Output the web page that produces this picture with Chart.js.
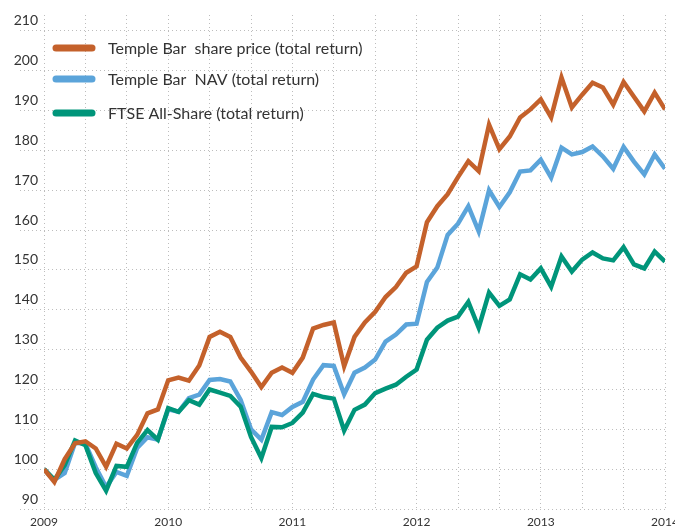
<!DOCTYPE html>
<html>
<head>
<meta charset="utf-8">
<script src="https://cdn.jsdelivr.net/npm/chart.js@4"></script>
<style>
  html, body { margin: 0; padding: 0; background: #fff; }
</style>
</head>
<body>
<canvas id="chart" width="675" height="529"></canvas>
<script>
// Monthly points, Jan 2009 (0) to Jan 2014 (60)
var years = ["2009", "2010", "2011", "2012", "2013", "2014"];
var yTicks = [90, 100, 110, 120, 130, 140, 150, 160, 170, 180, 190, 200, 210];

var sharePrice = [100, 96.8, 102.5, 106.5, 107, 105.2, 100.6, 106.4, 105.2, 108.6, 114, 115,
  122.3, 123, 122.2, 126, 133.2, 134.5, 133.2, 128, 124.5, 120.6, 124.2, 125.5,
  124.2, 128, 135.3, 136.2, 136.8, 125.8, 133.2, 136.8, 139.5, 143.2, 145.7, 149.3,
  150.9, 162, 166, 169, 173.3, 177.3, 174.8, 186.5, 180.3, 183.5, 188.3, 190.3,
  192.8, 188.3, 198.3, 190.8, 194, 197, 195.8, 191.5, 197.2, 193.5, 189.8, 194.5, 190.3];

var nav = [100, 97.3, 99, 106.6, 106.4, 100.5, 95.5, 99.3, 98.3, 105.3, 108, 107.4,
  115, 114.4, 117.8, 118.7, 122.4, 122.6, 122, 117.4, 110, 107.4, 114.3, 113.6,
  115.6, 116.9, 122.5, 126.1, 125.9, 118.8, 124.2, 125.5, 127.5, 132, 133.8, 136.3,
  136.5, 147, 150.6, 158.8, 161.6, 166, 159.7, 170, 165.8, 169.5, 174.7, 175,
  177.7, 173.2, 180.7, 179, 179.6, 181, 178.5, 175.4, 180.9, 177.2, 174, 179, 175.4];

var ftse = [100, 97.3, 101, 107.2, 106, 99, 94.6, 100.8, 100.6, 106.6, 109.8, 107.4,
  115.3, 114.4, 117.3, 116.2, 120, 119.2, 118.4, 115.7, 108.1, 102.8, 110.6, 110.5,
  111.6, 114.2, 118.9, 118.1, 117.7, 109.7, 114.9, 116.2, 119.1, 120.2, 121.2, 123.2,
  125, 132.5, 135.5, 137.3, 138.3, 142, 135.5, 144.3, 141, 142.6, 148.9, 147.6,
  150.4, 145.8, 153.4, 149.6, 152.6, 154.4, 152.9, 152.4, 155.7, 151.4, 150.4, 154.6, 152.1];

var labels = ["Temple Bar  share price (total return)", "Temple Bar  NAV (total return)", "FTSE All-Share (total return)"];
var colors = ["#c4612b", "#5ba4da", "#00957a"];

function toPoints(arr) {
  return arr.map(function (v, i) { return { x: i, y: v }; });
}

// legend drawn by hand: three rows stacked at top left
var legendRows = [48, 79, 113];
var sideLegend = {
  id: "sideLegend",
  afterDraw: function (chart) {
    var c = chart.ctx;
    c.save();
    chart.data.datasets.forEach(function (ds, i) {
      var y = legendRows[i];
      c.strokeStyle = ds.borderColor;
      c.lineWidth = 7;
      c.lineCap = "round";
      c.beginPath();
      c.moveTo(56, y);
      c.lineTo(92, y);
      c.stroke();
      c.fillStyle = "#333";
      c.font = "16px Lato";
      c.textBaseline = "middle";
      c.fillText(ds.label, 108, y + 1);
    });
    c.restore();
  }
};

var ctx = document.getElementById("chart").getContext("2d");

var chart = new Chart(ctx, {
  type: "line",
  data: {
    datasets: [
      { label: labels[0], data: toPoints(sharePrice), borderColor: colors[0], order: 0 },
      { label: labels[1], data: toPoints(nav), borderColor: colors[1], order: 2 },
      { label: labels[2], data: toPoints(ftse), borderColor: colors[2], order: 1 }
    ]
  },
  options: {
    responsive: false,
    animation: false,
    layout: { padding: { top: 15, right: 10, left: 0, bottom: 0 } },
    elements: {
      line: { borderWidth: 4.5, tension: 0, fill: false },
      point: { radius: 0, hoverRadius: 0 }
    },
    plugins: {
      legend: { display: false },
      tooltip: { enabled: false }
    },
    scales: {
      x: {
        type: "linear",
        min: 0,
        max: 60,
        ticks: {
          stepSize: 4,
          autoSkip: false,
          maxRotation: 0,
          padding: 6,
          color: "#333",
          font: { family: "Lato", size: 12 },
          callback: function (v) { return v % 12 === 0 ? years[v / 12] : ""; }
        },
        grid: { color: "#bdbdbd", lineWidth: 1, drawTicks: false },
        border: { display: false, dash: [1, 3] },
        afterFit: function (s) { s.height = 20; s.paddingLeft = 0; s.paddingRight = 0; }
      },
      y: {
        min: 90,
        max: 214,
        afterBuildTicks: function (s) {
          s.ticks = yTicks.map(function (v) { return { value: v }; });
        },
        ticks: {
          labelOffset: -10,
          padding: -18,
          color: "#333",
          font: { family: "Lato", size: 14 }
        },
        grid: {
          color: "#bdbdbd",
          lineWidth: 1,
          drawTicks: true,
          tickLength: 24,
          tickColor: "#bdbdbd",
          tickBorderDash: [1, 3]
        },
        border: { display: false, dash: [1, 3] },
        afterFit: function (s) { s.width = 44; }
      }
    }
  },
  plugins: [sideLegend]
});
</script>
</body>
</html>
